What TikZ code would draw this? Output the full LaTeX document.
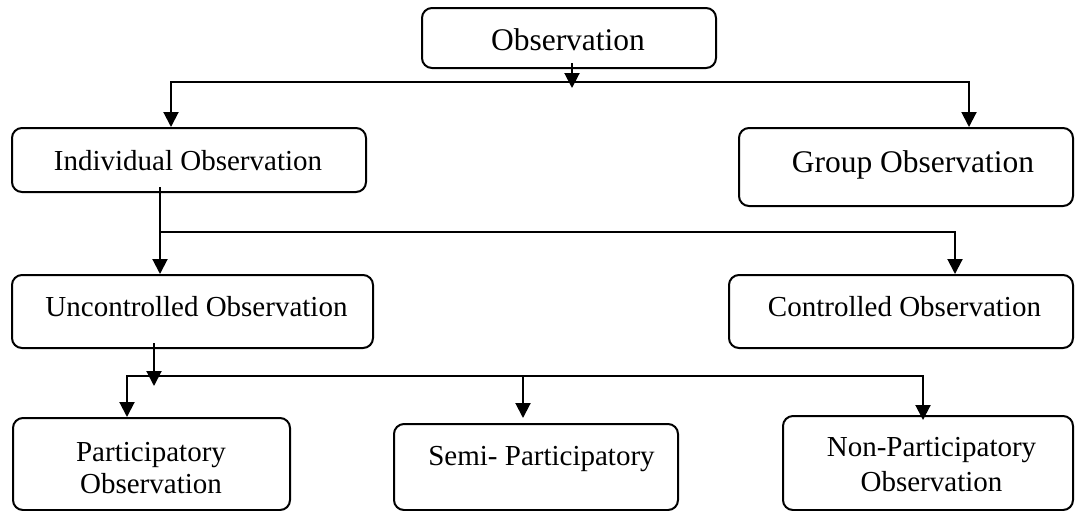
\documentclass[tikz,border=0pt]{standalone}
\usepackage{fontspec}
\setmainfont{Liberation Serif}
\usetikzlibrary{arrows.meta,calc}
\begin{document}
\begin{tikzpicture}[x=0.5pt,y=-0.5pt,
  box/.style={draw,line width=1pt,rounded corners=5pt,inner sep=0pt},
  lbl/.style={inner sep=0pt,anchor=base,font=\fontsize{14.5}{15.65}\selectfont},
  big/.style={font=\fontsize{15.75}{18}\selectfont},
  conn/.style={line width=1pt},
  tip/.tip={Triangle[length=7.5pt,width=7.5pt]},
  arr/.style={conn,-tip},
  arr2/.style={conn,tip-tip},
]
\useasboundingbox (0,0) rectangle (1075,510);

% boxes
\node[box,minimum width=147pt,minimum height=30pt] (obs) at (569,38) {};
\node[box,minimum width=177pt,minimum height=32pt] (ind) at (189,160) {};
\node[box,minimum width=167pt,minimum height=39pt] (grp) at (906,167) {};
\node[box,minimum width=180.5pt,minimum height=36.5pt] (unc) at (192.5,311.5) {};
\node[box,minimum width=172pt,minimum height=36.5pt] (con) at (901,311.5) {};
\node[box,minimum width=138.5pt,minimum height=46pt] (par) at (151.5,464) {};
\node[box,minimum width=142pt,minimum height=43pt] (semi) at (536,467) {};
\node[box,minimum width=145pt,minimum height=47pt] (non) at (928,463) {};

% labels
\node[lbl,big] (obsT) at (568,50) {Observation};
\node[lbl] (indT) at (188,170) {Individual Observation};
\node[lbl,big] (grpT) at (913,172) {Group Observation};
\node[lbl] (uncT) at (196.5,316.7) {Uncontrolled Observation};
\node[lbl] (conT) at (904.5,316.7) {Controlled Observation};
\node[lbl,font=\fontsize{14.5}{15.65}\selectfont] (parT) at (151,461.7)
  {\begin{tabular}[t]{@{}c@{}}Participatory\\Observation\end{tabular}};
\node[lbl] (semiT) at (541.5,465) {Semi- Participatory};
\node[lbl,font=\fontsize{14.5}{17.5}\selectfont] (nonT) at (931.5,456.7)
  {\begin{tabular}[t]{@{}c@{}}Non-Participatory\\Observation\end{tabular}};

% level 1 connectors
\coordinate (oA) at (572,63);
\coordinate (oB) at (572,88);
\draw[arr] (oA) -- (oB);
\coordinate (h1L) at (171,82);
\coordinate (h1R) at (969,82);
\draw[arr2] (h1L |- ind.north) -- (h1L) -- (h1R) -- (h1R |- grp.north);

% level 2 connectors
\coordinate (iA) at (160,187);
\draw[arr] (iA) -- (iA |- unc.north);
\coordinate (h2L) at (160,232);
\coordinate (h2R) at (955,232);
\draw[arr] (h2L) -- (h2R) -- (h2R |- con.north);

% level 3 connectors
\coordinate (uA) at (154,343);
\coordinate (uB) at (154,386);
\draw[arr] (uA) -- (uB);
\coordinate (h3L) at (127,376);
\coordinate (h3M) at (523,376);
\coordinate (h3R) at (923,376);
\coordinate (sT) at (523,418);
\coordinate (nT) at (923,420);
\draw[arr2] (h3L |- par.north) -- (h3L) -- (h3R) -- (nT);
\draw[arr] (h3M) -- (sT);
\end{tikzpicture}
\end{document}
